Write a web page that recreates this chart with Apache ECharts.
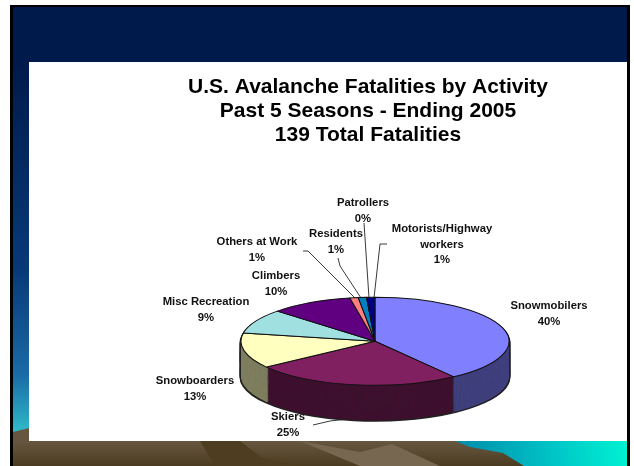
<!DOCTYPE html>
<html>
<head>
<meta charset="utf-8">
<script src="https://cdn.jsdelivr.net/npm/echarts@6/dist/echarts.min.js"></script>
<style>
  html, body { margin: 0; padding: 0; background: #fff; overflow: hidden; }
  #slide { position: absolute; left: 0; top: 0; width: 634px; height: 466px; }
  #pie { position: absolute; left: 225px; top: 292px; width: 300px; height: 400px; overflow: hidden; pointer-events: none; }
  #pie path { vector-effect: non-scaling-stroke; }
</style>
</head>
<body>
<div id="slide"></div>
<div id="pie"></div>
<script>
// Fatalities by activity (share of the 139 total, percent)
const categories = ['Snowmobilers', 'Skiers', 'Snowboarders', 'Misc Recreation', 'Climbers',
                    'Others at Work', 'Residents', 'Patrollers', 'Motorists/Highway\nworkers'];
const shares = [40, 25, 13, 9, 10, 1, 1, 0, 1];
const titleLines = ['U.S. Avalanche Fatalities by Activity', 'Past 5 Seasons - Ending 2005', '139 Total Fatalities'];

// slice colours: top face and the darker side wall
const topColors  = ['#8080ff', '#802060', '#ffffc0', '#a0e0e0', '#600080', '#ff8080', '#0080c0', '#c0c0ff', '#000080'];
const sideColors = ['#40407f', '#3f0f2f', '#7f7f5f', '#507070', '#300040', '#804040', '#004060', '#60607f', '#000040'];

// label anchor (centre of first text line) and leader lines, in page pixels
const labelSpots = [[549, 306], [288, 417], [195, 381], [206, 302], [276, 276], [257, 242], [336, 234], [363, 203], [442, 229]];
const leaderLines = [
  [[313, 425], [330, 421], [348, 419]],
  [[303, 251], [308, 251], [355, 298]],
  [[338, 258], [340, 266], [361, 298]],
  [[364, 223], [369, 298]],
  [[387, 244], [380, 244], [374, 298]]
];

/* ---------- slide background, title and labels ---------- */
const main = echarts.init(document.getElementById('slide'), null, { renderer: 'canvas', width: 634, height: 466 });
const LG = echarts.graphic.LinearGradient;
const FONT = '"Liberation Sans", Arial, sans-serif';
const LABEL_LH = 15.5;

const g = [
  { type: 'rect', shape: { x: 0, y: 0, width: 634, height: 466 }, style: { fill: '#ffffff' } },
  { type: 'rect', shape: { x: 10, y: 5, width: 620, height: 470 }, style: { fill: '#000000' } },
  { type: 'rect', shape: { x: 13, y: 7, width: 614, height: 60 }, style: { fill: '#001a4b' } },
  { type: 'rect', shape: { x: 13, y: 62, width: 16, height: 380 },
    style: { fill: new LG(0, 0, 0, 1, [
      { offset: 0, color: '#001a4b' }, { offset: 0.55, color: '#083a78' },
      { offset: 0.82, color: '#1a6aa6' }, { offset: 0.97, color: '#2fb8c8' }, { offset: 1, color: '#30bcca' }]) } },
  { type: 'rect', shape: { x: 13, y: 441, width: 614, height: 30 },
    style: { fill: new LG(0, 0, 0, 1, [{ offset: 0, color: '#675740' }, { offset: 1, color: '#46361a' }]) } },
  { type: 'polygon', shape: { points: [[13, 432], [29, 428], [29, 441], [13, 441]] }, style: { fill: '#665640' } },
  { type: 'polygon', shape: { points: [[200, 441], [240, 441], [262, 458], [300, 466], [215, 466]] }, style: { fill: '#4e3d20' } },
  { type: 'polygon', shape: { points: [[300, 441], [360, 452], [392, 444], [440, 466], [360, 466]] }, style: { fill: '#776650' } },
  { type: 'polygon', shape: { points: [[455, 441], [627, 441], [627, 466], [524, 466], [503, 453], [470, 447]] },
    style: { fill: new LG(0, 1, 1, 0, [{ offset: 0, color: '#0088a8' }, { offset: 0.6, color: '#00c8c8' }, { offset: 1, color: '#00f2d2' }]) } },
  { type: 'rect', shape: { x: 29, y: 62, width: 598, height: 379 }, style: { fill: '#ffffff' } }
];

titleLines.forEach((t, i) => {
  g.push({ type: 'text', x: 368, y: 87 + i * 24, style: {
    text: t, align: 'center', verticalAlign: 'middle', fill: '#000',
    font: 'bold 21px ' + FONT } });
});

leaderLines.forEach(pts => {
  g.push({ type: 'polyline', shape: { points: pts }, style: { stroke: '#3a3a3a', lineWidth: 1, fill: null } });
});

categories.forEach((c, i) => {
  const [x, y] = labelSpots[i];
  g.push({ type: 'text', x: x, y: y - LABEL_LH / 2, style: {
    text: c + '\n' + shares[i] + '%', align: 'center', verticalAlign: 'top',
    lineHeight: LABEL_LH, fill: '#111', font: 'bold 11.3px ' + FONT } });
});

main.setOption({ animation: false, graphic: { elements: g } });

/* ---------- 3-D pie: drawn upright, then flattened into an ellipse ---------- */
const PW = 300, PH = 400, CX = 150, CY = 150, R = 134;
const K = 44 / 134;              // vertical squash of the disc
const DEPTH = 35 / K;            // wall height before squashing
const LAYERS = 36;

const pieData = categories.map((c, i) => ({ name: c, value: shares[i] }));
const base = { type: 'pie', silent: true, startAngle: 90, clockwise: true,
  label: { show: false }, labelLine: { show: false }, emphasis: { disabled: true } };

function disc(dy, r, color) {
  return Object.assign({}, base, { center: [CX, CY + dy], radius: r,
    itemStyle: { borderWidth: 0, color: color },
    data: pieData.map(d => ({ name: d.name, value: d.value, itemStyle: { color: color } })) });
}

const series = [];
// dark outline of the cylinder
series.push(disc(DEPTH + 3, R + 1.4, '#222'));
for (let i = LAYERS; i >= 1; i--) series.push(disc(DEPTH * i / LAYERS, R + 1.4, '#222'));
// side wall, slice by slice; a slightly smaller dark disc under each layer
// shows through the gaps between slices as seams
for (let i = LAYERS; i >= 1; i--) {
  const dy = DEPTH * i / LAYERS;
  series.push(disc(dy, R - 1, '#262626'));
  series.push(Object.assign({}, base, { center: [CX, CY + dy], radius: R, padAngle: 0.5,
    itemStyle: { borderWidth: 0 },
    data: pieData.map((d, j) => ({ name: d.name, value: d.value, itemStyle: { color: sideColors[j] } })) }));
}
// top face
series.push(Object.assign({}, base, { center: [CX, CY], radius: R,
  itemStyle: { borderWidth: 1, borderColor: '#111' },
  data: pieData.map((d, j) => ({ name: d.name, value: d.value, itemStyle: { color: topColors[j] } })) }));

const pie = echarts.init(document.getElementById('pie'), null, { renderer: 'svg', width: PW, height: PH });
pie.setOption({ animation: false, series: series });

function flatten() {
  const svg = document.querySelector('#pie svg');
  if (!svg) return;
  svg.setAttribute('viewBox', '0 0 ' + PW + ' ' + PH);
  svg.setAttribute('preserveAspectRatio', 'none');
  svg.setAttribute('height', PH * K);
  svg.style.height = (PH * K) + 'px';
  document.getElementById('pie').style.height = Math.ceil(PH * K) + 'px';
}
flatten();
pie.on('finished', flatten);
document.getElementById('pie').style.top = (341 - CY * K) + 'px';
</script>
</body>
</html>
